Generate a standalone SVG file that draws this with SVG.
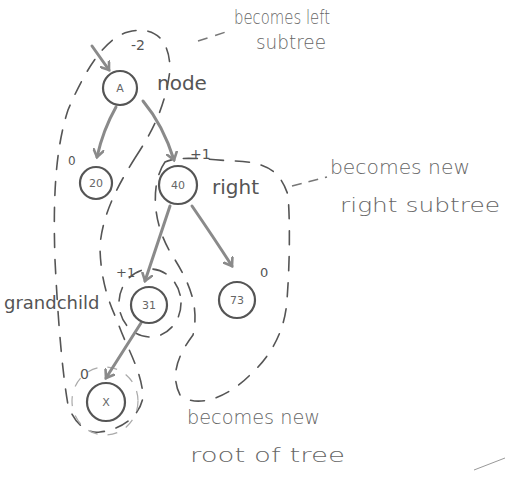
<svg xmlns="http://www.w3.org/2000/svg" width="507" height="477" viewBox="0 0 507 477">
<style>
.bg{fill:#fff}
.node circle{fill:none;stroke:#555;stroke-width:2.2}
.node text{font-family:"DejaVu Sans",sans-serif;font-size:11px;fill:#666;text-anchor:middle}
.edge{fill:none;stroke:#8a8a8a;stroke-width:3;stroke-linecap:round}
.region{fill:none;stroke:#555;stroke-width:1.6;stroke-dasharray:14 12;stroke-linecap:round}
.light{fill:none;stroke:#aaa;stroke-width:1.2;stroke-dasharray:10 10}
.lbl{font-family:"DejaVu Sans",sans-serif;fill:#555}
.note{font-family:"DejaVu Sans",sans-serif;fill:#666;font-size:19px;font-weight:300}
</style>
<defs>
<marker id="ah" markerWidth="12" markerHeight="12" refX="8" refY="6" orient="auto" markerUnits="userSpaceOnUse">
<path d="M1,1 L8,6 L1,11" fill="none" stroke="#8a8a8a" stroke-width="2.6" stroke-linecap="round"/>
</marker>
</defs>
<rect class="bg" width="507" height="477"/>

<g id="regions">
<path class="region" d="M135,158 C150,135 165,110 170,70 C170,40 155,25 128,32 C105,38 85,70 68,110 C55,150 53,200 55,260 C58,320 62,370 68,405 C75,425 88,434 100,432 C120,430 140,417 143,397 C142,370 125,345 117,320 C105,295 100,270 100,245 C103,215 115,190 135,158 Z"/>
<ellipse class="region" cx="150" cy="303" rx="31" ry="34" stroke-dasharray="12 10"/>
<ellipse class="light" cx="105" cy="401" rx="33" ry="34"/>
<path class="region" d="M165,162 C152,180 150,220 172,255 C188,280 200,305 193,335 C178,355 170,375 180,395 C195,408 225,400 250,375 C272,355 285,330 287,300 C290,260 290,220 288,195 C280,170 265,162 235,161 C210,160 180,155 165,162 Z"/>
</g>

<g id="connectors">
<path class="edge" d="M92,46 L109,70" marker-end="url(#ah)"/>
<path class="edge" d="M116,107 Q103,130 97,157" marker-end="url(#ah)"/>
<path class="edge" d="M143,101 Q163,125 174,160" marker-end="url(#ah)"/>
<path class="edge" d="M170,206 L145,281" marker-end="url(#ah)"/>
<path class="edge" d="M192,206 Q214,238 232,266" marker-end="url(#ah)"/>
<path class="edge" d="M141,323 L106,378" marker-end="url(#ah)"/>
<path fill="none" stroke="#777" stroke-width="1.5" stroke-dasharray="10 8" d="M198,41 L232,30"/>
<path fill="none" stroke="#777" stroke-width="1.5" stroke-dasharray="10 7" d="M292,186 L327,177"/>
<path fill="none" stroke="#999" stroke-width="1" d="M474,470 L505,458"/>
</g>

<g id="node-A" class="node"><circle cx="120" cy="88" r="17"/><text x="120" y="92">A</text></g>
<g id="node-20" class="node"><circle cx="96" cy="183" r="16"/><text x="96" y="187">20</text></g>
<g id="node-40" class="node"><circle cx="178" cy="185" r="19"/><text x="178" y="189">40</text></g>
<g id="node-31" class="node"><circle cx="149" cy="305" r="18"/><text x="149" y="309">31</text></g>
<g id="node-73" class="node"><circle cx="237" cy="300" r="18"/><text x="237" y="304">73</text></g>
<g id="node-X" class="node"><circle cx="106" cy="402" r="19"/><text x="106" y="406">X</text></g>

<g id="labels">
<text class="lbl" x="131" y="50" font-size="14">-2</text>
<text class="lbl" x="157" y="90" font-size="20">node</text>
<text class="lbl" x="68" y="165" font-size="12">0</text>
<text class="lbl" x="190" y="159" font-size="14">+1</text>
<text class="lbl" x="212" y="194" font-size="20">right</text>
<text class="lbl" x="116" y="277" font-size="13">+1</text>
<text class="lbl" x="260" y="277" font-size="13">0</text>
<text class="lbl" x="4" y="309" font-size="18">grandchild</text>
<text class="lbl" x="80" y="379" font-size="14">0</text>
<text class="note" x="234" y="24" textLength="96" lengthAdjust="spacingAndGlyphs">becomes left</text>
<text class="note" x="256" y="49" textLength="70" lengthAdjust="spacingAndGlyphs">subtree</text>
<text class="note" x="330" y="174" textLength="140" lengthAdjust="spacingAndGlyphs">becomes new</text>
<text class="note" x="340" y="212" textLength="160" lengthAdjust="spacingAndGlyphs">right subtree</text>
<text class="note" x="187" y="424" textLength="133" lengthAdjust="spacingAndGlyphs">becomes new</text>
<text class="note" x="190" y="462" textLength="155" lengthAdjust="spacingAndGlyphs">root of tree</text>
</g>
</svg>
